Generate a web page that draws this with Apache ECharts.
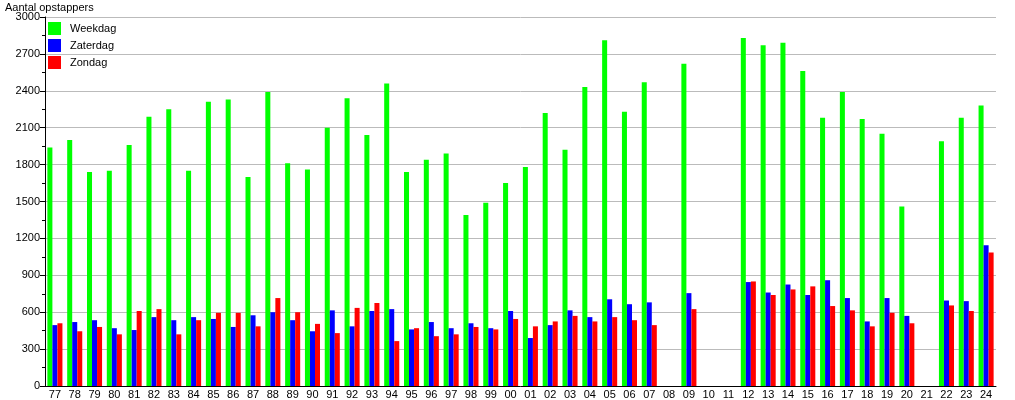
<!DOCTYPE html>
<html>
<head>
<meta charset="utf-8">
<script src="https://cdn.jsdelivr.net/npm/echarts@6/dist/echarts.min.js"></script>
<style>html,body{margin:0;padding:0;background:#fff;}#c{width:1015px;height:400px;}</style>
</head>
<body>
<div id="c"></div>
<script>
var categories = ['77','78','79','80','81','82','83','84','85','86','87','88','89','90','91','92','93','94','95','96','97','98','99','00','01','02','03','04','05','06','07','08','09','10','11','12','13','14','15','16','17','18','19','20','21','22','23','24'];
var weekdag = [1940,2000,1740,1750,1960,2190,2250,1750,2310,2330,1700,2390,1810,1760,2100,2340,2040,2460,1740,1840,1890,1390,1490,1650,1780,2220,1920,2430,2810,2230,2470,null,2620,null,null,2830,2770,2790,2560,2180,2390,2170,2050,1460,null,1990,2180,2280];
var zaterdag = [495,520,535,470,455,560,535,560,545,480,575,600,535,445,615,485,610,625,460,520,470,510,470,610,390,495,615,560,705,665,680,null,755,null,null,845,760,825,740,860,715,525,715,570,null,695,690,1145];
var zondag = [510,445,480,420,610,625,420,535,595,595,485,715,600,505,430,635,675,365,470,405,420,480,460,545,485,525,570,525,560,535,495,null,625,null,null,850,740,785,810,650,615,485,595,510,null,655,610,1085];
var yTicks = {min: 0, max: 3000, interval: 300};

var chart = echarts.init(document.getElementById('c'), null, {renderer: 'canvas'});
var font = 'Liberation Sans, Arial, sans-serif';
chart.setOption({
  animation: false,
  backgroundColor: '#ffffff',
  textStyle: {fontFamily: font},
  title: {
    text: 'Aantal opstappers', left: 5, top: 2, padding: 0,
    textStyle: {fontSize: 11, fontWeight: 'normal', color: '#000', fontFamily: font}
  },
  legend: {
    orient: 'vertical', left: 48, top: 22, padding: 0, itemWidth: 13, itemHeight: 13, itemGap: 4,
    icon: 'rect', textStyle: {fontSize: 11, color: '#000', fontFamily: font, padding: [0, 0, 0, 4]},
    data: ['Weekdag','Zaterdag','Zondag']
  },
  grid: {left: 45, right: 19, top: 17, bottom: 13, containLabel: false},
  xAxis: {
    type: 'category', data: categories,
    axisLine: {lineStyle: {color: '#000', width: 1}},
    axisTick: {show: false},
    axisLabel: {color: '#000', fontSize: 11, margin: 3, interval: 0, fontFamily: font},
    splitLine: {show: false}
  },
  yAxis: {
    type: 'value', min: yTicks.min, max: yTicks.max, interval: yTicks.interval,
    axisLine: {show: true, lineStyle: {color: '#000', width: 1}},
    axisTick: {show: true, length: 5, lineStyle: {color: '#000'}},
    minorTick: {show: true, splitNumber: 2, length: 3, lineStyle: {color: '#000'}},
    axisLabel: {color: '#000', fontSize: 11, margin: 5, fontFamily: font, formatter: function (v) { return String(v); }},
    splitLine: {show: true, lineStyle: {color: '#bbbbbb', width: 1}}
  },
  series: [
    {name: 'Weekdag', type: 'bar', data: weekdag, itemStyle: {color: '#00ff00'}, barGap: '0%', barCategoryGap: '24%'},
    {name: 'Zaterdag', type: 'bar', data: zaterdag, itemStyle: {color: '#0000ff'}},
    {name: 'Zondag', type: 'bar', data: zondag, itemStyle: {color: '#ff0000'}}
  ]
});
</script>
</body>
</html>
